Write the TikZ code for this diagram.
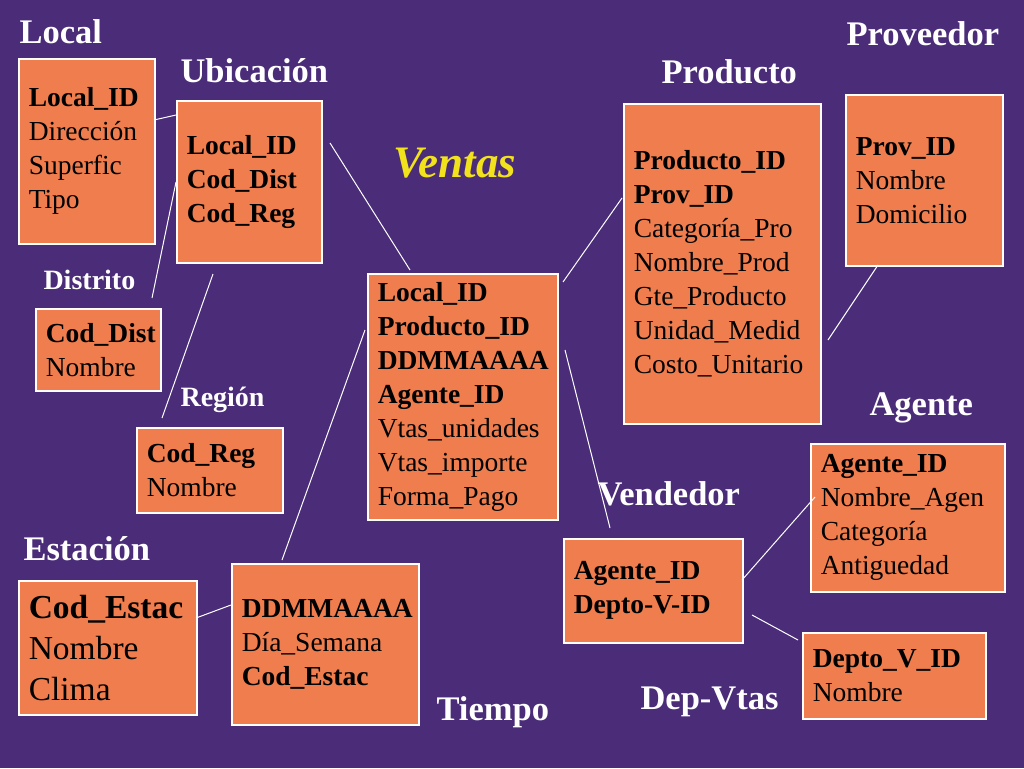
\documentclass[tikz,border=0pt]{standalone}
\usepackage{fontspec}
\setmainfont{Liberation Serif}
\definecolor{bg}{HTML}{4A2C78}
\definecolor{boxc}{HTML}{EF7D4E}
\definecolor{ven}{HTML}{F2E21C}
\begin{document}
\begin{tikzpicture}[x=1pt,y=-1pt,
  tbl/.style={draw=white,line width=1.5pt,fill=boxc,anchor=north west,align=left,inner xsep=10pt,inner ysep=0pt,font=\fontsize{27.5}{34}\selectfont,text=black},
  ttl/.style={anchor=west,font=\fontsize{34.5}{36}\selectfont\bfseries,text=white},
  stt/.style={anchor=west,font=\fontsize{28}{30}\selectfont\bfseries,text=white},
  ln/.style={draw=white,line width=1pt}]
\fill[bg] (0,0) rectangle (1024,768);
\useasboundingbox (0,0) rectangle (1024,768);
\newcommand{\tb}[7]{\node[tbl,minimum width=#4-#2,minimum height=#5-#3,text width=#4-#2-20pt] (#1) at (#2,#3) {#6};}
\tb{local}{18}{58}{154}{243}{\textbf{Local\_ID}\\Dirección\\Superfic\\Tipo}{}
\tb{ubic}{176}{100}{321}{262}{\textbf{Local\_ID}\\\textbf{Cod\_Dist}\\\textbf{Cod\_Reg}}{}
\tb{dist}{35}{308}{160}{390}{\textbf{Cod\_Dist}\\Nombre}{}
\tb{reg}{136}{427}{282}{512}{\textbf{Cod\_Reg}\\Nombre}{}
\node[tbl,minimum width=178,minimum height=134,text width=158,font=\fontsize{33.5}{41}\selectfont] (est) at (18,580) {\textbf{Cod\_Estac}\\Nombre\\Clima};
\tb{tiempo}{231}{563}{418}{724}{\textbf{DDMMAAAA}\\Día\_Semana\\\textbf{Cod\_Estac}}{}
\tb{ventas}{367}{273}{557}{519}{\textbf{Local\_ID}\\\textbf{Producto\_ID}\\\textbf{DDMMAAAA}\\\textbf{Agente\_ID}\\Vtas\_unidades\\Vtas\_importe\\Forma\_Pago}{}
\tb{prod}{623}{103}{820}{423}{\textbf{Producto\_ID}\\\textbf{Prov\_ID}\\Categoría\_Pro\\Nombre\_Prod\\Gte\_Producto\\Unidad\_Medid\\Costo\_Unitario}{}
\tb{prov}{845}{94}{1002}{265}{\textbf{Prov\_ID}\\Nombre\\Domicilio}{}
\tb{agente}{810}{443}{1004}{591}{\textbf{Agente\_ID}\\Nombre\_Agen\\Categoría\\Antiguedad}{}
\tb{vend}{563}{538}{742}{642}{\textbf{Agente\_ID}\\\textbf{Depto-V-ID}}{}
\tb{dep}{802}{632}{985}{718}{\textbf{Depto\_V\_ID}\\Nombre}{}
\node[ttl] (tLocal) at (16,32) {Local};
\node[ttl] (tUbic) at (177,71) {Ubicación};
\node[ttl] (tProv) at (843,34) {Proveedor};
\node[ttl] (tProd) at (658,72) {Producto};
\node[anchor=west,font=\fontsize{45}{47}\selectfont\bfseries\itshape,text=ven] (tVen) at (390,163) {Ventas};
\node[stt] (tDist) at (40,280) {Distrito};
\node[stt] (tReg) at (177,400) {Región};
\node[ttl] (tAg) at (866,408) {Agente};
\node[ttl] (tVend) at (594,494) {Vendedor};
\node[ttl] (tEst) at (20,549) {Estación};
\node[ttl] (tTiem) at (433,712) {Tiempo};
\node[ttl] (tDep) at (637,702) {Dep-Vtas};
\foreach \n/\x/\y in {a1/154/120,a2/176/115,b1/152/298,b2/176/182,c1/162/418,c2/213/274,d1/330/143,d2/410/270,
 e1/563/282,e2/622/198,f1/828/340,f2/878/265,g1/282/560,g2/365/330,h1/565/350,h2/610/528,
 i1/742/580,i2/815/497,j1/752/615,j2/798/640,k1/196/618,k2/231/605}
 \coordinate (\n) at (\x,\y);
\draw[ln] (a1)--(a2) (b1)--(b2) (c1)--(c2) (d1)--(d2) (e1)--(e2) (f1)--(f2) (g1)--(g2) (h1)--(h2) (i1)--(i2) (j1)--(j2) (k1)--(k2);
\end{tikzpicture}
\end{document}
